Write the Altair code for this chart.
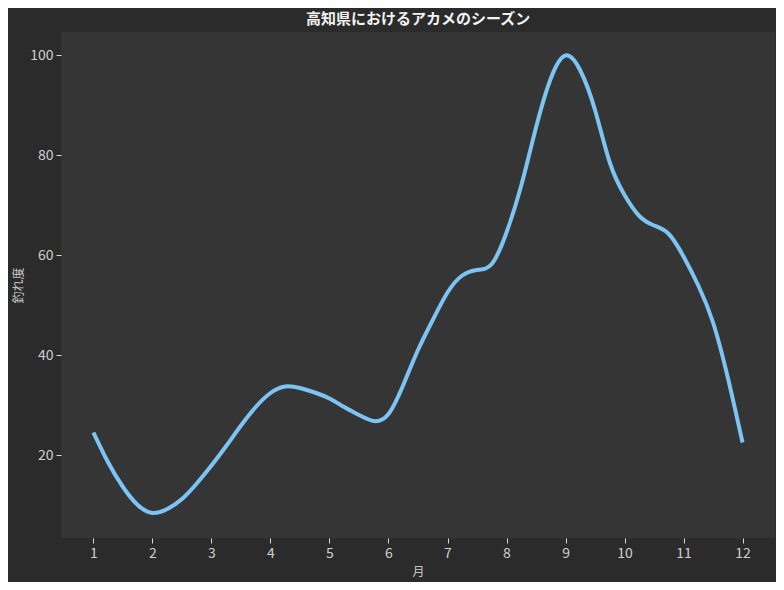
import altair as alt
import pandas as pd

# 月 (every quarter month) and 釣れ度
months = [1, 1.25, 1.5, 1.75, 2, 2.25, 2.5, 2.75, 3, 3.25, 3.5, 3.75,
          4, 4.25, 4.5, 4.75, 5, 5.25, 5.5, 5.75, 6, 6.25, 6.5, 6.75,
          7, 7.25, 7.5, 7.75, 8, 8.25, 8.5, 8.75, 9, 9.25, 9.5, 9.75,
          10, 10.25, 10.5, 10.75, 11, 11.25, 11.5, 11.75, 12]
catch_level = [24.5, 18.5, 13.6, 10.0, 8.4, 9.2, 11.2, 14.3, 17.9, 21.8, 25.9, 29.6,
               32.4, 33.7, 33.4, 32.5, 31.3, 29.6, 28.0, 26.8, 28.2, 34.0, 41.0, 47.0,
               52.5, 55.9, 57.0, 58.2, 64.5, 73.9, 85.5, 95.3, 99.9, 96.9, 89.0, 78.5,
               72.0, 67.8, 65.9, 64.2, 59.7, 53.9, 46.5, 35.5, 22.5]
month_ticks = [1, 2, 3, 4, 5, 6, 7, 8, 9, 10, 11, 12]
level_ticks = [20, 40, 60, 80, 100]

title_text = "高知県におけるアカメのシーズン"
x_title = "月"
y_title = "釣れ度"

df = pd.DataFrame({"month": months, "level": catch_level})

font = "'Liberation Sans Narrow', 'Noto Sans CJK JP', sans-serif"
cjk = "'Noto Sans CJK JP', sans-serif"

line = alt.Chart(df).mark_line(
    interpolate="natural", color="#7cc4f3", strokeWidth=4
).encode(
    x=alt.X("month:Q", title=x_title,
            scale=alt.Scale(domain=[0.45, 12.55], nice=False, zero=False),
            axis=alt.Axis(values=month_ticks, format="d", titlePadding=6)),
    y=alt.Y("level:Q", title=y_title,
            scale=alt.Scale(domain=[3.4, 104.6], nice=False, zero=False),
            axis=alt.Axis(values=level_ticks, format="d", titlePadding=4)),
)

chart = line.properties(
    width=714,
    height=506,
    title=alt.TitleParams(title_text, font=cjk, fontSize=15, fontWeight="bold",
                          color="#f2f2f2", anchor="middle", offset=5),
    autosize=alt.AutoSizeParams(type="none"),
    padding={"left": 53, "top": 24, "right": 1, "bottom": 44},
    background="#2b2b2b",
).configure_view(
    fill="#353535", stroke=None
).configure_axis(
    domain=False, grid=False,
    tickColor="#d8d8d8", tickSize=5, tickWidth=1, tickOffset=0,
    labelColor="#cfcfcf", labelFont=font, labelFontSize=14, labelPadding=3,
    titleColor="#c8c8c8", titleFont=cjk, titleFontSize=12, titleFontWeight="normal",
)

chart.save("out.html", embed_options={"renderer": "svg", "actions": False})
